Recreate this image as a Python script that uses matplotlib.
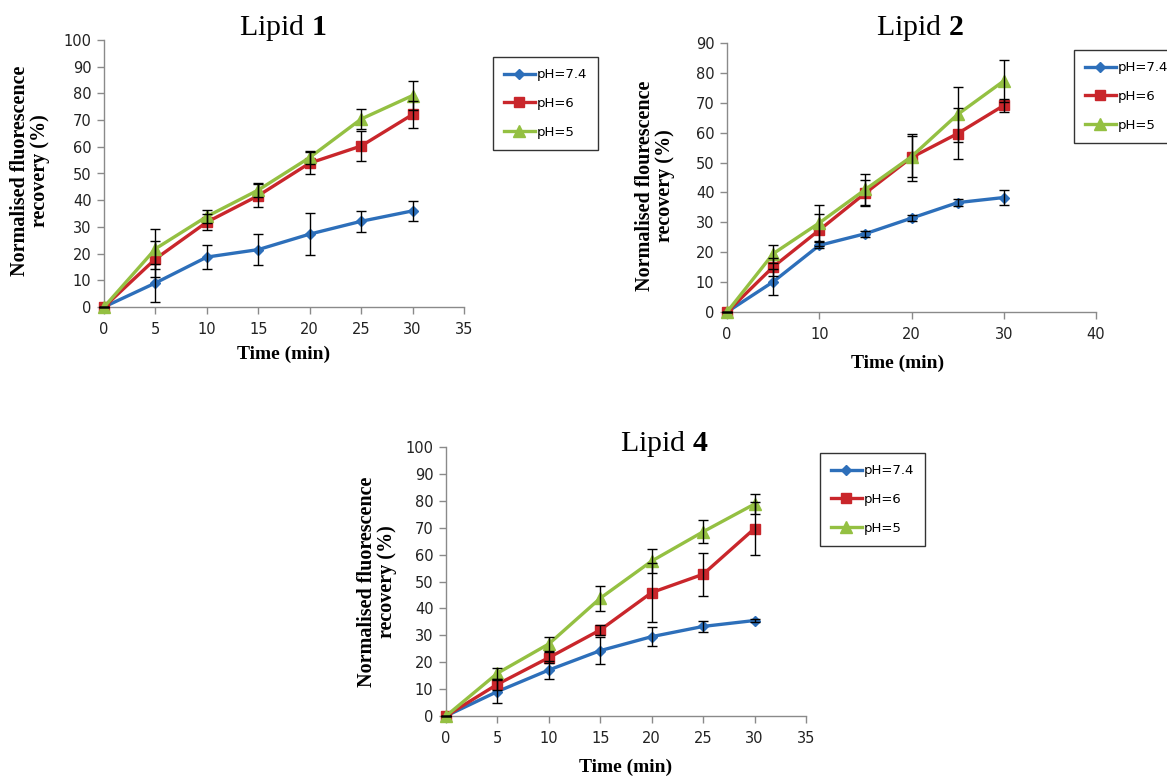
import numpy as np
import matplotlib
matplotlib.use('Agg')
import matplotlib.pyplot as plt

# tiempo (min)
t = [0, 5, 10, 15, 20, 25, 30]

# Lipid 1
l1_ph74 = [0, 9.0, 18.7, 21.5, 27.3, 32.1, 36.0]
l1_ph74_err = [0, 7.0, 4.5, 5.8, 8.0, 4.0, 3.8]
l1_ph6 = [0, 18.0, 31.8, 41.7, 53.9, 60.3, 72.1]
l1_ph6_err = [0, 6.6, 3.0, 4.3, 4.0, 5.5, 5.0]
l1_ph5 = [0, 21.8, 33.9, 43.8, 56.0, 70.4, 79.2]
l1_ph5_err = [0, 7.4, 2.5, 2.6, 2.4, 3.7, 5.5]

# Lipid 2
l2_ph74 = [0, 10.1, 22.3, 26.2, 31.4, 36.6, 38.3]
l2_ph74_err = [0, 4.4, 1.0, 1.0, 1.0, 1.2, 2.5]
l2_ph6 = [0, 15.1, 27.4, 39.8, 51.7, 59.7, 69.1]
l2_ph6_err = [0, 3.0, 5.3, 4.5, 8.0, 8.4, 2.2]
l2_ph5 = [0, 19.5, 29.8, 41.0, 52.0, 66.1, 77.3]
l2_ph5_err = [0, 3.0, 6.0, 5.2, 6.8, 9.3, 7.0]

# Lipid 4
l4_ph74 = [0, 9.1, 17.1, 24.3, 29.5, 33.3, 35.5]
l4_ph74_err = [0, 4.4, 3.2, 5.0, 3.4, 1.9, 0.5]
l4_ph6 = [0, 11.8, 21.7, 32.0, 45.9, 52.7, 69.7]
l4_ph6_err = [0, 2.0, 2.0, 2.0, 11.0, 8.0, 9.8]
l4_ph5 = [0, 15.9, 26.8, 43.8, 57.6, 68.5, 78.8]
l4_ph5_err = [0, 2.1, 2.7, 4.7, 4.3, 4.2, 3.7]

etiquetas = ['pH=7.4', 'pH=6', 'pH=5']
colores = ['#2d6fba', '#c9262b', '#94c042']
marcadores = ['D', 's', '^']
tamanos = [5, 7.5, 8]

plt.rcParams['mathtext.fontset'] = 'custom'
plt.rcParams['mathtext.rm'] = 'Liberation Serif'
plt.rcParams['mathtext.bf'] = 'Liberation Serif:bold'

fig = plt.figure(figsize=(11.67, 7.76), dpi=100)

W, H = 1167.0, 776.0

def caja(x0, x1, y_top, y_bot):
    return [x0 / W, 1 - y_bot / H, (x1 - x0) / W, (y_bot - y_top) / H]

def panel(rect, series, xmax, xstep, ymax, ylab, ylab_pos, xlab_pos, leg_pos):
    ax = fig.add_axes(rect)
    for (y, e), lab, c, m, ms in zip(series, etiquetas, colores, marcadores, tamanos):
        ax.plot(t, y, color=c, marker=m, markersize=ms, lw=2.4, label=lab,
                clip_on=False, zorder=3)
        ax.errorbar(t, y, yerr=e, fmt='none', ecolor='black', elinewidth=1.0,
                    capsize=3.3, capthick=1.0, zorder=4, clip_on=False)
    ax.set_xlim(0, xmax)
    ax.set_ylim(0, ymax)
    ax.set_xticks(np.arange(0, xmax + 1, xstep))
    ax.set_yticks(np.arange(0, ymax + 1, 10))
    for s in ['top', 'right']:
        ax.spines[s].set_visible(False)
    for s in ['left', 'bottom']:
        ax.spines[s].set_color('#8a8a8a')
        ax.spines[s].set_linewidth(1.0)
    ax.tick_params(direction='out', length=5, width=1, color='#8a8a8a',
                   labelsize=10.5, labelcolor='#222222', pad=4)
    ax.tick_params(axis='x', pad=6)
    ax.set_xlabel('Time (min)', fontsize=14, fontweight='bold',
                  family='Liberation Serif')
    ax.xaxis.set_label_coords(*xlab_pos)
    ax.set_ylabel(ylab, fontsize=14.5, fontweight='bold',
                  family='Liberation Serif', linespacing=1.0)
    ax.yaxis.set_label_coords(*ylab_pos)
    leg = ax.legend(loc='upper left', bbox_to_anchor=leg_pos,
                    bbox_transform=fig.transFigure, fontsize=9.5,
                    frameon=True, fancybox=False, framealpha=1,
                    edgecolor='#333333', handlelength=2.3, handletextpad=0.15,
                    labelspacing=1.2, borderpad=0.85, borderaxespad=0)
    leg.get_frame().set_linewidth(1.0)
    return ax

panel(caja(104, 464, 40, 307),
      [(l1_ph74, l1_ph74_err), (l1_ph6, l1_ph6_err), (l1_ph5, l1_ph5_err)],
      35, 5, 100, 'Normalised fluorescence\nrecovery (%)',
      (-0.15, 0.51), (0.5, -0.145), (493 / W, 1 - 57 / H))

panel(caja(727, 1096, 43, 312),
      [(l2_ph74, l2_ph74_err), (l2_ph6, l2_ph6_err), (l2_ph5, l2_ph5_err)],
      40, 10, 90, 'Normalised flourescence\nrecovery (%)',
      (-0.14, 0.47), (0.463, -0.16), (1074 / W, 1 - 50 / H))

panel(caja(446, 806, 447, 716),
      [(l4_ph74, l4_ph74_err), (l4_ph6, l4_ph6_err), (l4_ph5, l4_ph5_err)],
      35, 5, 100, 'Normalised fluorescence\nrecovery (%)',
      (-0.136, 0.5), (0.5, -0.16), (820 / W, 1 - 453 / H))

# titulos
fig.text(283 / W, 1 - 35 / H, r'Lipid $\mathbf{1}$', ha='center', va='baseline',
         fontsize=21.5, family='Liberation Serif')
fig.text(920 / W, 1 - 35 / H, r'Lipid $\mathbf{2}$', ha='center', va='baseline',
         fontsize=21.5, family='Liberation Serif')
fig.text(664 / W, 1 - 451 / H, r'Lipid $\mathbf{4}$', ha='center', va='baseline',
         fontsize=21.5, family='Liberation Serif')

fig.savefig('out.png', dpi=100)
